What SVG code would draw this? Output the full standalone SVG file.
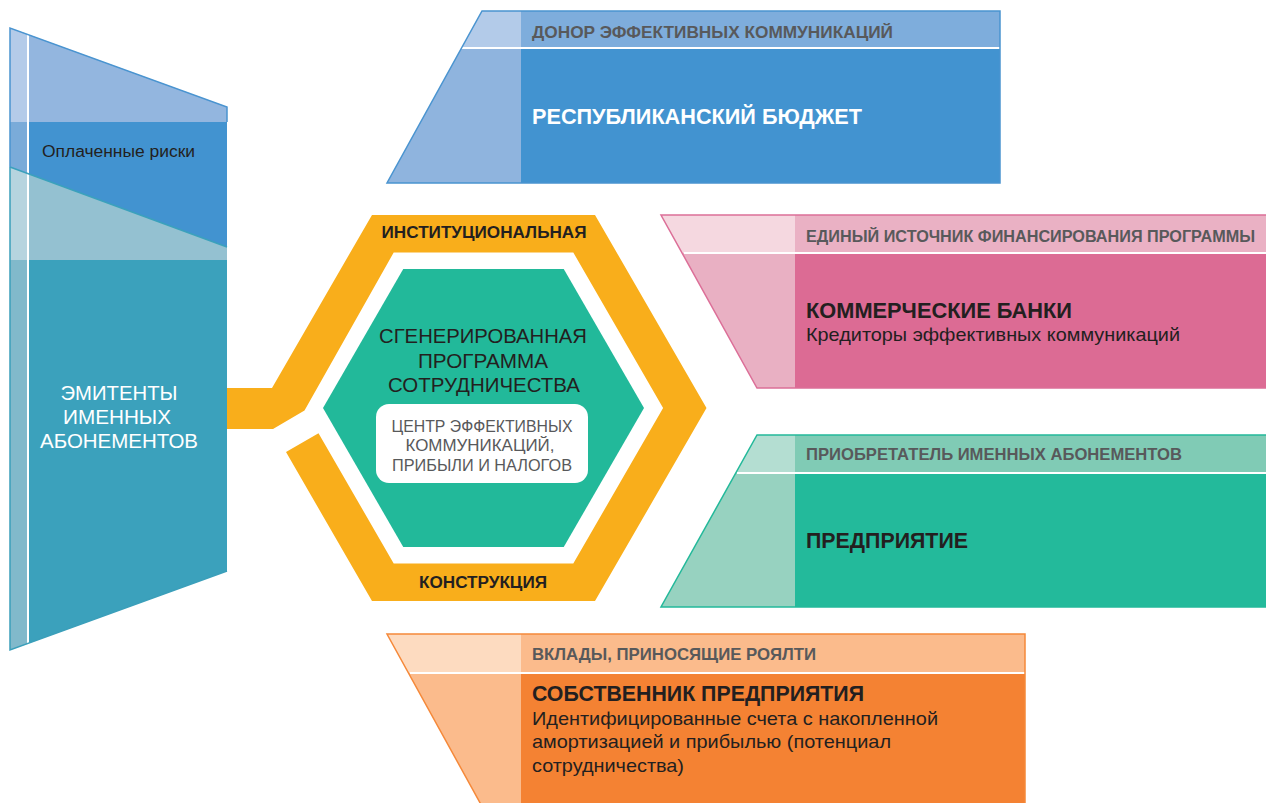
<svg xmlns="http://www.w3.org/2000/svg" width="1266" height="803" viewBox="0 0 1266 803">
<style>
text{font-family:"Liberation Sans",Arial,sans-serif}
.hdr{font-size:17px;font-weight:bold;fill:#58595b}
.ttl{font-size:22px;font-weight:bold;fill:#231f20}
.ttlw{font-size:22px;font-weight:bold;fill:#ffffff}
.body{font-size:19px;fill:#231f20}
.ctr{font-size:21px;fill:#231f20}
.box{font-size:17px;fill:#58595b}
.ring{font-size:16px;font-weight:bold;fill:#231f20}
.left{font-size:21px;fill:#ffffff}
.wl{stroke:#ffffff;stroke-width:2}
</style>
<rect width="1266" height="803" fill="#ffffff"/>

<g id="emitents">
  <polygon points="10,28 227,107 227,571 10,650" fill="#3ba1bc"/>
  <polygon points="10,28 227,107 227,122 10,122" fill="#93b6df"/>
  <polygon points="10,122 227,122 227,247 10,167" fill="#4293d0"/>
  <polygon points="10,167 227,247 227,260 10,260" fill="#94c1d1"/>
  <polygon points="10,28 27,34.2 27,122 10,122" fill="#b4cbe9"/>
  <polygon points="10,122 27,122 27,173.3 10,167" fill="#7aabd9"/>
  <polygon points="10,167 27,173.3 27,260 10,260" fill="#b6d4df"/>
  <polygon points="10,260 27,260 27,643.8 10,650" fill="#81b9cb"/>
  <line x1="28" y1="34.5" x2="28" y2="643.5" class="wl"/>
  <polyline points="10,167 227,247" fill="none" stroke="#3ba1bc" stroke-width="1.5"/>
  <polyline points="10,167 10,28 227,107 227,122" fill="none" stroke="#4a94d0" stroke-width="1.5"/>
  <polyline points="10,167 10,650 227,571" fill="none" stroke="#3b9fba" stroke-width="1.5"/>
  <text x="42" y="157" class="body" style="font-size:16px" textLength="153" lengthAdjust="spacingAndGlyphs">Оплаченные риски</text>
  <text x="119" y="400" class="left" text-anchor="middle" textLength="117" lengthAdjust="spacingAndGlyphs">ЭМИТЕНТЫ</text>
  <text x="117" y="424" class="left" text-anchor="middle" textLength="108" lengthAdjust="spacingAndGlyphs">ИМЕННЫХ</text>
  <text x="119" y="448" class="left" text-anchor="middle" textLength="158" lengthAdjust="spacingAndGlyphs">АБОНЕМЕНТОВ</text>
</g>

<g id="connectors">
  <path d="M227,388 L272,388 L372,214.9 L595,214.9 L706.5,408 L595,601.1 L372,601.1 L286,452 L318.5,433.2 L393.7,563.5 L573.3,563.5 L663.1,408 L573.3,252.5 L393.7,252.5 L304.5,410.5 L273,429 L227,429 Z" fill="#f9ae1b"/>
</g>

<g id="ring-labels">
  <text x="484" y="238" class="ring" text-anchor="middle" textLength="205" lengthAdjust="spacingAndGlyphs">ИНСТИТУЦИОНАЛЬНАЯ</text>
  <text x="483" y="588" class="ring" text-anchor="middle" textLength="128" lengthAdjust="spacingAndGlyphs">КОНСТРУКЦИЯ</text>
</g>

<g id="program">
  <polygon points="323,408 403.25,269 563.75,269 644,408 563.75,547 403.25,547" fill="#22b99a"/>
  <text x="483" y="343" class="ctr" text-anchor="middle" textLength="208" lengthAdjust="spacingAndGlyphs">СГЕНЕРИРОВАННАЯ</text>
  <text x="483" y="368" class="ctr" text-anchor="middle" textLength="130" lengthAdjust="spacingAndGlyphs">ПРОГРАММА</text>
  <text x="484" y="392" class="ctr" text-anchor="middle" textLength="192" lengthAdjust="spacingAndGlyphs">СОТРУДНИЧЕСТВА</text>
  <rect x="376" y="404" width="212" height="79" rx="13" fill="#ffffff"/>
  <text x="482" y="432" class="box" text-anchor="middle" textLength="181" lengthAdjust="spacingAndGlyphs">ЦЕНТР ЭФФЕКТИВНЫХ</text>
  <text x="480" y="451" class="box" text-anchor="middle" textLength="149" lengthAdjust="spacingAndGlyphs">КОММУНИКАЦИЙ,</text>
  <text x="482" y="471" class="box" text-anchor="middle" textLength="180" lengthAdjust="spacingAndGlyphs">ПРИБЫЛИ И НАЛОГОВ</text>
</g>

<g id="budget">
  <polygon points="482,11 521,11 521,48 461.6,48" fill="#b3cbe9"/>
  <rect x="521" y="11" width="479" height="37" fill="#7eaddc"/>
  <polygon points="461.6,48 521,48 521,183 387,183" fill="#8fb4de"/>
  <rect x="521" y="48" width="479" height="135" fill="#4293d0"/>
  <line x1="462" y1="48" x2="1000" y2="48" class="wl"/>
  <polygon points="482,11 1000,11 1000,183 387,183" fill="none" stroke="#4a94d0" stroke-width="1.5"/>
  <text x="532" y="38" class="hdr" textLength="361" lengthAdjust="spacingAndGlyphs">ДОНОР ЭФФЕКТИВНЫХ КОММУНИКАЦИЙ</text>
  <text x="532" y="124" class="ttlw" textLength="330" lengthAdjust="spacingAndGlyphs">РЕСПУБЛИКАНСКИЙ БЮДЖЕТ</text>
</g>

<g id="banks">
  <polygon points="661,215 795,215 795,253 682.1,253" fill="#f5d8e0"/>
  <rect x="795" y="215" width="472" height="38" fill="#eab1c4"/>
  <polygon points="682.1,253 795,253 795,388 757,388" fill="#e9b0c3"/>
  <rect x="795" y="253" width="472" height="135" fill="#dc6b94"/>
  <line x1="684" y1="253" x2="1266" y2="253" class="wl"/>
  <polygon points="661,215 1268,215 1268,388 757,388" fill="none" stroke="#dc6f98" stroke-width="1.5"/>
  <text x="806" y="242" class="hdr" style="font-size:16px" textLength="449" lengthAdjust="spacingAndGlyphs">ЕДИНЫЙ ИСТОЧНИК ФИНАНСИРОВАНИЯ ПРОГРАММЫ</text>
  <text x="806" y="318" class="ttl" textLength="266" lengthAdjust="spacingAndGlyphs">КОММЕРЧЕСКИЕ БАНКИ</text>
  <text x="806" y="341" class="body" textLength="374" lengthAdjust="spacingAndGlyphs">Кредиторы эффективных коммуникаций</text>
</g>

<g id="enterprise">
  <polygon points="757,435 795,435 795,473 735.8,473" fill="#b4ded2"/>
  <rect x="795" y="435" width="472" height="38" fill="#80cbb5"/>
  <polygon points="735.8,473 795,473 795,607 661,607" fill="#97d2c0"/>
  <rect x="795" y="473" width="472" height="134" fill="#23ba9b"/>
  <line x1="737" y1="473" x2="1266" y2="473" class="wl"/>
  <polygon points="757,435 1268,435 1268,607 661,607" fill="none" stroke="#23b99a" stroke-width="1.5"/>
  <text x="806" y="460" class="hdr" textLength="376" lengthAdjust="spacingAndGlyphs">ПРИОБРЕТАТЕЛЬ ИМЕННЫХ АБОНЕМЕНТОВ</text>
  <text x="806" y="548" class="ttl" textLength="162" lengthAdjust="spacingAndGlyphs">ПРЕДПРИЯТИЕ</text>
</g>

<g id="owner">
  <polygon points="387,634 521,634 521,673 408.5,673" fill="#fddbc0"/>
  <rect x="521" y="634" width="504" height="39" fill="#fbbb8c"/>
  <polygon points="408.5,673 521,673 521,810 484,810" fill="#fbbb8c"/>
  <rect x="521" y="673" width="504" height="137" fill="#f48233"/>
  <line x1="410" y1="673" x2="1025" y2="673" class="wl"/>
  <polyline points="484,810 387,634 1025,634 1025,810" fill="none" stroke="#f5893a" stroke-width="1.5"/>
  <text x="532" y="660" class="hdr" textLength="284" lengthAdjust="spacingAndGlyphs">ВКЛАДЫ, ПРИНОСЯЩИЕ РОЯЛТИ</text>
  <text x="532" y="701" class="ttl" textLength="332" lengthAdjust="spacingAndGlyphs">СОБСТВЕННИК ПРЕДПРИЯТИЯ</text>
  <text x="532" y="725" class="body" textLength="406" lengthAdjust="spacingAndGlyphs">Идентифицированные счета с накопленной</text>
  <text x="532" y="748" class="body" textLength="359" lengthAdjust="spacingAndGlyphs">амортизацией и прибылью (потенциал</text>
  <text x="532" y="772" class="body" textLength="152" lengthAdjust="spacingAndGlyphs">сотрудничества)</text>
</g>
</svg>
